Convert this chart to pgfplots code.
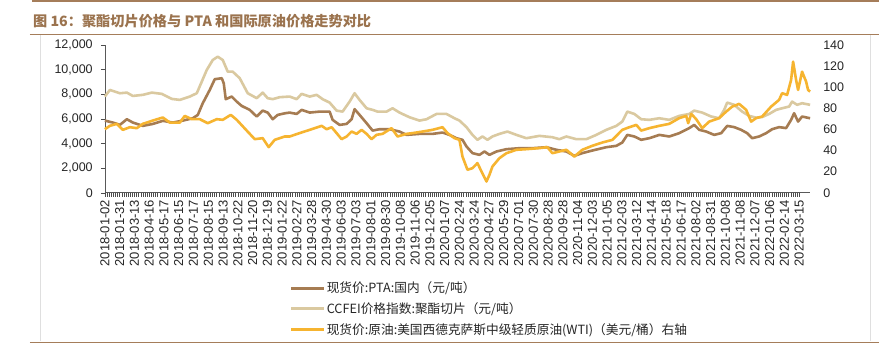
\documentclass[border=0pt]{standalone}
\usepackage{pgfplots}
\pgfplotsset{compat=1.18}
\usepackage{fontspec}
\setmainfont{Liberation Sans}
\newfontfamily\cjk{Noto Sans CJK SC}
\definecolor{pta}{RGB}{166,124,82}
\definecolor{ccf}{RGB}{218,201,160}
\definecolor{wti}{RGB}{246,180,48}
\definecolor{titlec}{RGB}{155,115,78}
\definecolor{rulec}{RGB}{165,125,90}
\begin{document}
\begin{tikzpicture}
\path[fill=white] (0pt,0pt) rectangle (880pt,354pt);
\draw[gray!25, line width=0.8pt] (40pt,13pt) -- (40pt,319pt);
\draw[gray!25, line width=0.8pt] (871pt,13pt) -- (871pt,319pt);
\draw[rulec, line width=2pt] (32pt,353pt) -- (880pt,353pt);
\draw[rulec, line width=0.8pt] (30pt,320pt) -- (880pt,320pt);
\draw[rulec, line width=1.5pt] (30pt,11pt) -- (880pt,11pt);
\node[anchor=west, inner sep=0pt, text=titlec, font=\cjk\bfseries\fontsize{14.2}{16}\selectfont] at (33pt,333pt) {图 16：聚酯切片价格与 PTA 和国际原油价格走势对比};
\begin{axis}[
  name=main,
  at={(105pt,161pt)}, anchor=origin, scale only axis, width=706pt, height=148pt,
  xmin=0, xmax=706, ymin=0, ymax=12000,
  axis y line*=left, axis x line*=bottom,
  axis line style={gray!70!black, line width=0.6pt},
  xtick={0,14.79,...,696},
  xticklabels={2018-01-02,2018-01-31,2018-03-13,2018-04-16,2018-05-17,2018-06-15,2018-07-17,2018-08-15,2018-09-13,2018-10-22,2018-11-20,2018-12-19,2019-01-22,2019-02-27,2019-03-28,2019-04-30,2019-06-03,2019-07-03,2019-08-01,2019-08-30,2019-10-08,2019-11-06,2019-12-05,2020-01-07,2020-02-24,2020-03-24,2020-04-27,2020-05-29,2020-07-01,2020-07-30,2020-08-28,2020-09-28,2020-11-04,2020-12-03,2021-01-05,2021-02-03,2021-03-12,2021-04-14,2021-05-18,2021-06-17,2021-08-02,2021-08-31,2021-10-08,2021-11-08,2021-12-07,2022-01-06,2022-02-14,2022-03-15},
  minor x tick num=6,
  tick align=outside, major tick length=4pt, minor tick length=4pt,
  tick style={gray!60!black, line width=0.5pt},
  x tick label style={rotate=90, anchor=east, inner sep=0pt, font=\fontsize{13}{13}\selectfont, text=black!85},
  ytick={0,2000,...,12000},
  y tick label style={anchor=east, inner sep=0pt, font=\fontsize{12.5}{13}\selectfont, text=black!85},
  /pgf/number format/assume math mode=true,
  /pgf/number format/1000 sep={,},
  scaled y ticks=false,
  xticklabel shift=3pt, yticklabel shift=8pt,
  clip=false,
]
\addplot[pta, line width=2.6pt, line join=round, no markers] coordinates {
(0,5860)(8,5700)(15,5510)(22,5970)(28,5700)(38,5430)(48,5590)(58,5840)(68,5700)(78,5860)
(88,6050)(93,6320)(98,7270)(105,8350)(110,9220)(117,9300)(119,8890)(121,7600)(127,7810)(132,7400)
(137,7050)(145,6730)(152,6190)(158,6670)(163,6510)(168,5970)(173,6320)(180,6450)(185,6510)(192,6400)
(197,6730)(205,6510)(215,6590)(225,6590)(228,5920)(235,5510)(242,5590)(247,5970)(250,6790)(255,6320)
(262,5650)(268,5050)(275,5160)(285,5160)(295,4970)(302,4700)(315,4780)(328,4780)(338,4890)(345,4700)
(352,4430)(358,4300)(362,3760)(368,3220)(375,3080)(380,3350)(385,3080)(392,3350)(402,3540)(415,3620)
(428,3620)(442,3700)(452,3490)(462,3350)(470,3000)(478,3220)(488,3430)(502,3700)(512,3810)(518,4080)
(523,4700)(530,4570)(537,4300)(545,4430)(555,4700)(565,4570)(575,4840)(585,5250)(590,5510)(595,5110)
(602,4970)(610,4700)(617,4840)(623,5430)(630,5330)(637,5110)(643,4840)(648,4430)(655,4570)(662,4840)
(668,5160)(675,5330)(682,5250)(687,5920)(690,6460)(694,5780)(698,6190)(706,6050)
};
\addplot[ccf, line width=2.6pt, line join=round, no markers] coordinates {
(0,7810)(5,8350)(15,8080)(22,8130)(28,7860)(38,7950)(47,8130)(57,8030)(67,7620)(75,7540)
(85,7810)(92,8080)(97,9020)(102,9970)(108,10780)(113,11050)(118,10780)(123,9830)(128,9830)(135,9300)
(143,8080)(152,7680)(158,8130)(163,7680)(168,7600)(175,7760)(185,7810)(192,7600)(197,8030)(205,7810)
(212,7950)(218,7600)(225,7320)(232,6670)(238,6590)(245,7400)(250,8080)(255,7540)(262,6860)(268,6730)
(273,6590)(282,6590)(288,6860)(295,6510)(305,6130)(315,5860)(322,5970)(332,6400)(342,6400)(350,6050)
(355,5860)(362,5330)(368,4700)(373,4300)(378,4570)(383,4300)(388,4570)(395,4780)(403,4970)(412,4700)
(422,4430)(435,4620)(448,4510)(455,4350)(462,4570)(472,4350)(482,4350)(492,4700)(502,5110)(512,5430)
(518,5780)(523,6590)(530,6400)(537,5970)(545,5920)(555,6050)(565,5920)(575,6240)(585,6400)(590,6670)
(598,6510)(607,6190)(615,6050)(620,6730)(623,7320)(630,7140)(638,6590)(645,6240)(652,6100)(658,6150)
(665,6400)(672,6730)(678,6860)(685,7000)(688,7400)(693,7140)(698,7270)(706,7140)
};
\end{axis}
\begin{axis}[
  at={(main.origin)}, anchor=origin, scale only axis, width=706pt, height=148pt,
  xmin=0, xmax=706, ymin=0, ymax=140,
  axis y line*=right, axis x line=none,
  y axis line style={draw=none},
  ytick={0,20,...,140}, ytick style={draw=none},
  y tick label style={anchor=west, inner sep=0pt, font=\fontsize{12.5}{13}\selectfont, text=black!85},
  /pgf/number format/assume math mode=true,
  yticklabel shift=13pt,
  clip=false,
  legend style={draw=none, fill=none, at={(axis description cs:0.262,-0.595)}, anchor=north west,
    inner sep=0pt, row sep=6.5pt, font=\cjk\fontsize{12.7}{14}\selectfont, text=black!85,
    nodes={inner sep=1pt}},
  legend cell align=left,
  legend image code/.code={\draw[#1, line width=3pt] (0pt,0pt) -- (33pt,0pt);},
]
\addlegendimage{pta}
\addlegendentry{现货价:PTA:国内（元/吨）}
\addlegendimage{ccf}
\addlegendentry{CCFEI价格指数:聚酯切片（元/吨）}
\addplot[wti, line width=2.6pt, line join=round, no markers] coordinates {
(0,60.2)(5,63.4)(12,65.3)(18,59.6)(25,62.1)(32,61.2)(38,65.3)(48,68.4)(58,71.3)(65,66.5)
(75,66.5)(80,72.8)(87,69.7)(95,69.7)(103,65.9)(112,69.7)(118,69.1)(126,73.8)(132,69.1)(142,58.9)
(150,50.8)(158,51.7)(164,43.2)(170,50.1)(180,53.3)(185,53.3)(195,56.5)(205,59.6)(217,63.4)(222,60.2)
(227,62.1)(232,56.5)(237,50.8)(242,53.3)(247,58)(252,55.8)(257,59.6)(262,55.8)(267,50.8)(272,54.9)
(278,55.8)(287,61.2)(293,53.3)(302,55.8)(308,56.5)(318,58)(328,59.6)(338,62.1)(343,56.5)(350,51.7)
(355,50.1)(358,34.3)(363,21.8)(368,23.3)(373,28.1)(377,20.2)(382,10.7)(385,17)(388,24.9)(395,32.8)
(402,37.5)(412,40.7)(422,41.3)(435,42.3)(443,43.2)(448,37.5)(455,39.1)(462,40.7)(470,34.3)(478,40.7)
(488,44.5)(498,47.6)(508,50.1)(518,59.6)(525,62.1)(532,64.3)(537,58.9)(545,61.2)(555,63.4)(565,65.3)
(575,70.7)(582,72.8)(584,65.9)(587,74.7)(592,69.7)(598,61.2)(605,67.4)(615,70.7)(622,76.9)(628,81.6)
(635,84.2)(642,78.5)(647,67.4)(652,70.7)(658,72.2)(667,81.6)(675,88)(678,94.3)(683,92.7)(687,106.9)
(689,124.2)(692,106.9)(694,97.4)(698,114.7)(702,105.3)(704,97.4)(706,95.8)
};
\addlegendentry{现货价:原油:美国西德克萨斯中级轻质原油(WTI)（美元/桶）右轴}
\end{axis}
\end{tikzpicture}
\end{document}
